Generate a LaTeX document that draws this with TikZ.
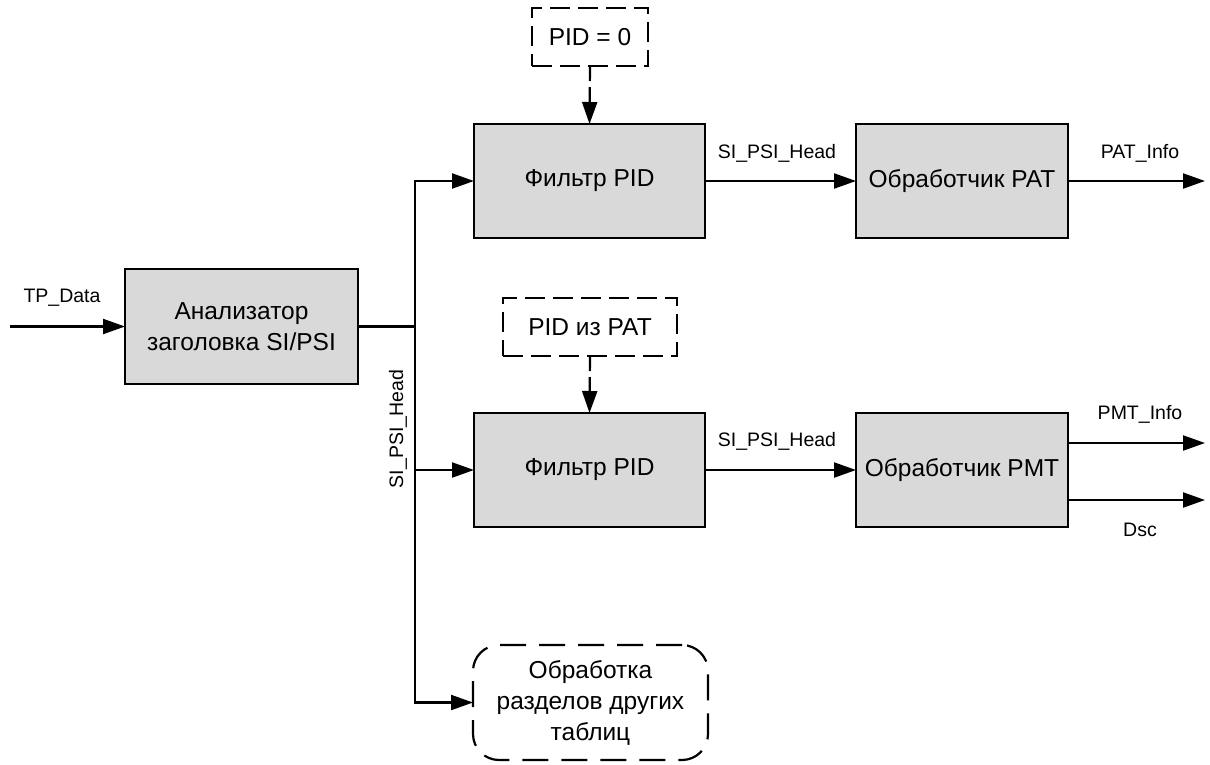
\documentclass[tikz,border=0pt]{standalone}
\usepackage{fontspec}
\setmainfont{Liberation Sans}
\usetikzlibrary{arrows.meta}
\begin{document}
\begin{tikzpicture}[x=1pt,y=-1pt,
  line width=2.2pt,
  blk/.style={draw=black,fill=boxgray,inner sep=0pt,outer sep=0pt,align=center,font=\fontsize{24.5}{31}\selectfont},
  dbox/.style={draw=black,dash pattern=on 20pt off 8pt,inner sep=0pt,outer sep=0pt,align=center,font=\fontsize{24.5}{31}\selectfont},
  arr/.style={-{Triangle[length=22pt,width=15pt]}},
  lbl/.style={font=\fontsize{19.5}{23}\selectfont,inner sep=0pt}
]
\definecolor{boxgray}{HTML}{D9D9D9}
\useasboundingbox (0,0) rectangle (1210,764);
% blocks
\node[blk,minimum width=233pt,minimum height=115pt] (an) at (241.5,326.5) {Анализатор\\заголовка SI/PSI};
\node[blk,minimum width=231pt,minimum height=114pt] (f1) at (589.5,181) {Фильтр PID};
\node[blk,minimum width=212pt,minimum height=114pt] (pat) at (962,181) {Обработчик PAT};
\node[blk,minimum width=231pt,minimum height=114pt] (f2) at (589.5,470) {Фильтр PID};
\node[blk,minimum width=212pt,minimum height=114pt] (pmt) at (962,470) {Обработчик PMT};
\node[dbox,minimum width=116pt,minimum height=58pt] (p0) at (590,37) {PID = 0};
\node[dbox,minimum width=174pt,minimum height=58pt] (pp) at (590,327) {PID из PAT};
\node[dbox,dash pattern=on 26pt off 13pt,rounded corners=26pt,minimum width=235pt,minimum height=115pt] (ot) at (590.5,702.5) {Обработка\\разделов других\\таблиц};
% coordinates
\coordinate (in) at (10,326.5);
\coordinate (jm) at (415,326.5);
\coordinate (o1) at (1205,181);
\coordinate (o2) at (1205,443);
\coordinate (o3) at (1205,500);
% connectors
\draw[arr] (in) -- (an.west);
\draw (an.east) -- (jm);
\draw[arr] (jm) |- (f1.west);
\draw[arr] (jm) |- (f2.west);
\draw[arr] (jm) |- (ot.west);
\draw[arr] (f1.east) -- (pat.west);
\draw[arr] (f2.east) -- (pmt.west);
\draw[arr] (pat.east) -- (o1);
\draw[arr] (pmt.east |- o2) -- (o2);
\draw[arr] (pmt.east |- o3) -- (o3);
\draw[arr,dash pattern=on 15pt off 6pt] (p0.south) -- (f1.north);
\draw[arr,dash pattern=on 15pt off 6pt] (pp.south) -- (f2.north);
% labels
\node[lbl] (l1) at (62,298) {TP\_Data};
\node[lbl] (l2) at (777,153) {SI\_PSI\_Head};
\node[lbl] (l3) at (1140,153) {PAT\_Info};
\node[lbl] (l4) at (777,441) {SI\_PSI\_Head};
\node[lbl] (l5) at (1140,414) {PMT\_Info};
\node[lbl] (l6) at (1140,530) {Dsc};
\node[lbl,rotate=90] (l7) at (398,429) {SI\_PSI\_Head};
\end{tikzpicture}
\end{document}
